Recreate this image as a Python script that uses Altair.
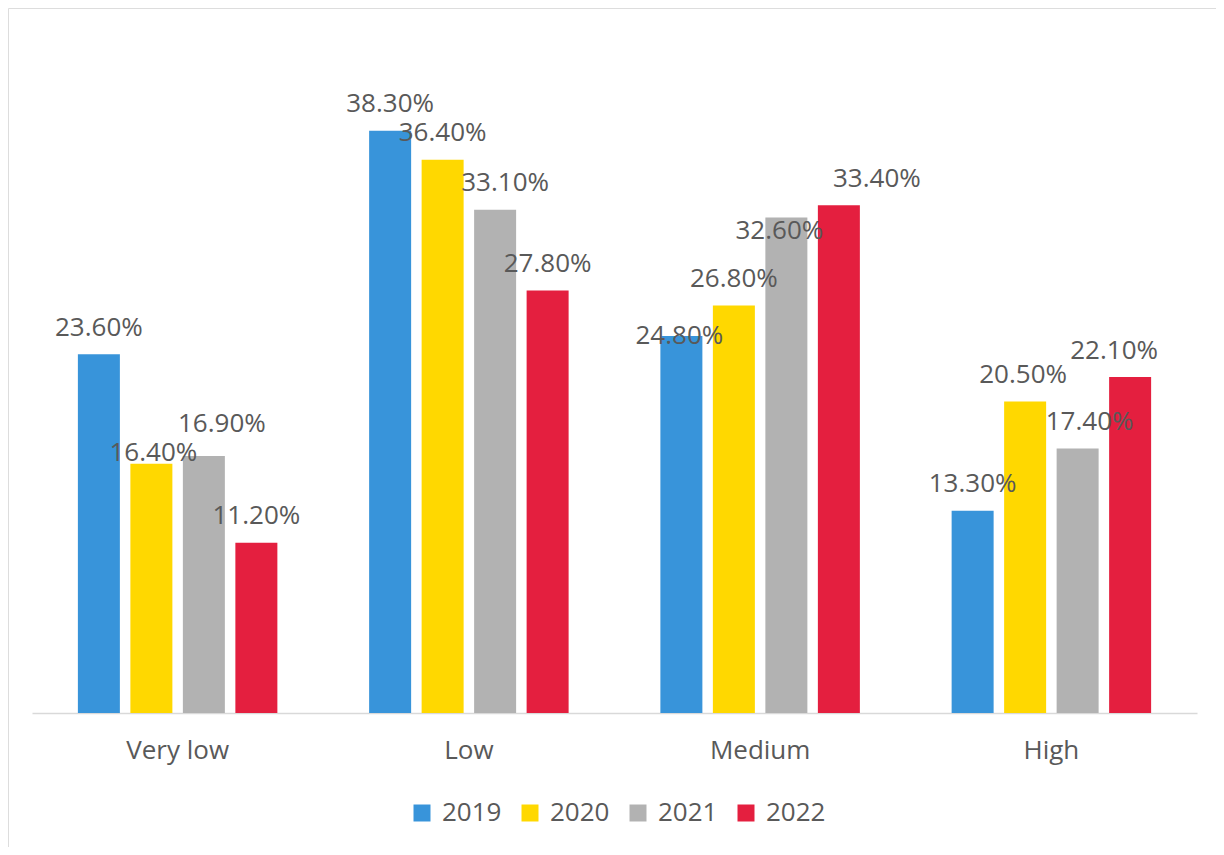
import altair as alt
import pandas as pd

categories = ["Very low", "Low", "Medium", "High"]
years = ["2019", "2020", "2021", "2022"]
values_2019 = [23.6, 38.3, 24.8, 13.3]
values_2020 = [16.4, 36.4, 26.8, 20.5]
values_2021 = [16.9, 33.1, 32.6, 17.4]
values_2022 = [11.2, 27.8, 33.4, 22.1]
colors = ["#3894DA", "#FFD800", "#B2B2B2", "#E41F3F"]

# manual label nudges (pixels) per year, per category, like the hand-placed labels of the original
nudge_dx = {"2019": [0, 0, -2, 0], "2020": [2, 0, 0, -2], "2021": [18, 10, -7, 12], "2022": [0, 0, 38, -16]}
nudge_dy = {"2019": [0, 0, 26, 0], "2020": [16, 0, 0, 0], "2021": [-6, 0, 40, 0], "2022": [0, 0, 0, 0]}

series = {"2019": values_2019, "2020": values_2020, "2021": values_2021, "2022": values_2022}
rows = []
for y in years:
    for i, c in enumerate(categories):
        rows.append({"category": c, "year": y, "value": series[y][i],
                     "ndx": nudge_dx[y][i], "ndy": nudge_dy[y][i]})
df = pd.DataFrame(rows)

FONT = "Open Sans"
TXT = "#595959"

x_enc = alt.X("category:N", sort=categories,
              scale=alt.Scale(range=[24, 1189], paddingInner=0, paddingOuter=0),
              axis=alt.Axis(title=None, labelAngle=0, labelFontSize=26, labelColor=TXT,
                            labelFont=FONT, ticks=False, tickSize=0, domainColor="#d9d9d9",
                            domainWidth=1.5, offset=-134, labelPadding=24, grid=False))
xo_enc = alt.XOffset("year:N", sort=years,
                     scale=alt.Scale(paddingInner=0.2, paddingOuter=0.874))
y_enc = alt.Y("value:Q", scale=alt.Scale(domain=[-8.816, 46.38], nice=False, zero=False),
              axis=None)

bars = alt.Chart(df).mark_bar().encode(
    x=x_enc,
    xOffset=xo_enc,
    y=y_enc,
    color=alt.Color("year:N", sort=years,
                    scale=alt.Scale(domain=years, range=colors),
                    legend=alt.Legend(title=None, orient="none", legendX=401, legendY=792,
                                      direction="horizontal", symbolType="square",
                                      symbolSize=289, symbolStrokeWidth=0,
                                      labelFontSize=26, labelFont=FONT, labelColor=TXT,
                                      labelOffset=7, columnPadding=15, padding=0)),
)

labels = alt.Chart(df).transform_calculate(
    label="format(datum.value, '.2f') + '%'"
).mark_text(
    font=FONT, fontSize=26, color=TXT, baseline="alphabetic", align="center",
    dx=alt.expr("datum.ndx"), dy=alt.expr("datum.ndy - 18.5"),
).encode(
    x=x_enc,
    xOffset=xo_enc,
    y=y_enc,
    text="label:N",
)

chart = alt.layer(bars, labels).properties(
    width=1208, height=839, padding=0
).configure_view(
    stroke="#d9d9d9", strokeWidth=1.5
).configure(background="white")

chart.save("out.html", embed_options={"renderer": "svg", "actions": False})
